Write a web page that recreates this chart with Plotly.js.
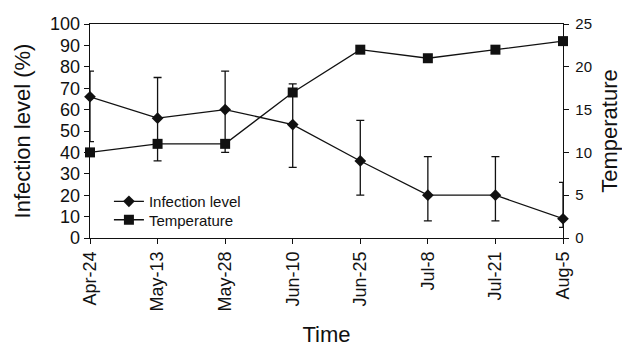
<!DOCTYPE html>
<html>
<head>
<meta charset="utf-8">
<script src="https://cdn.plot.ly/plotly-3.0.1.min.js"></script>
<style>html,body{margin:0;padding:0;background:#fff;}#chart{width:622px;height:347px;}</style>
</head>
<body>
<div id="chart"></div>
<script>
var dates = ['Apr-24','May-13','May-28','Jun-10','Jun-25','Jul-8','Jul-21','Aug-5'];
var infection = [66, 56, 60, 53, 36, 20, 20, 9];
var infErrPlus = [12, 19, 18, 19, 19, 18, 18, 17];
var infErrMinus = [21, 20, 20, 20, 16, 12, 12, 4];
var temperature = [10, 11, 11, 17, 22, 21, 22, 23];
var leftTicks = [0,10,20,30,40,50,60,70,80,90,100];
var rightTicks = [0,5,10,15,20,25];

var ink = '#111';
var font = 'Liberation Sans, Arial, sans-serif';

var traces = [
  {
    x: dates, y: infection, name: 'Infection level', type: 'scatter', mode: 'lines+markers',
    legend: 'legend',
    line: {color: ink, width: 1.3},
    marker: {symbol: 'diamond', size: 9, color: ink},
    error_y: {type: 'data', symmetric: false, array: infErrPlus, arrayminus: infErrMinus,
              color: ink, thickness: 1.3, width: 4},
    cliponaxis: false
  },
  {
    x: dates, y: temperature, name: 'Temperature', type: 'scatter', mode: 'lines+markers',
    yaxis: 'y2', legend: 'legend2',
    line: {color: ink, width: 1.3},
    marker: {symbol: 'square', size: 10, color: ink},
    cliponaxis: false
  }
];

var legendStyle = function (yPos) {
  return {x: 0.04, y: yPos, xanchor: 'left', yanchor: 'middle',
          bgcolor: 'rgba(0,0,0,0)', font: {size: 15, color: ink}};
};

var layout = {
  width: 622, height: 347,
  margin: {l: 90, r: 59, t: 24, b: 109},
  paper_bgcolor: '#fff', plot_bgcolor: '#fff',
  font: {family: font, color: ink},
  showlegend: true,
  legend: legendStyle(0.17),
  legend2: legendStyle(0.084),
  xaxis: {
    type: 'category', range: [0, 7], showgrid: false, zeroline: false,
    showline: true, linecolor: ink, linewidth: 1.3, mirror: true,
    ticks: 'outside', ticklen: 5, tickcolor: ink, tickwidth: 1,
    tickangle: -90, tickfont: {size: 18, color: ink},
    title: {text: 'Time', font: {size: 22, color: ink}, standoff: 18},
    automargin: false
  },
  yaxis: {
    range: [0, 100], tickvals: leftTicks, showgrid: false, zeroline: false,
    showline: true, linecolor: ink, linewidth: 1.3,
    ticks: 'outside', ticklen: 5, tickcolor: ink, tickwidth: 1,
    tickfont: {size: 18, color: ink},
    title: {text: 'Infection level (%)', font: {size: 22, color: ink}, standoff: 13},
    automargin: false
  },
  yaxis2: {
    range: [0, 25], tickvals: rightTicks, overlaying: 'y', side: 'right',
    showgrid: false, zeroline: false,
    showline: true, linecolor: ink, linewidth: 1.3,
    ticks: 'outside', ticklen: 5, tickcolor: ink, tickwidth: 1,
    ticklabelstandoff: 3,
    tickfont: {size: 15, color: ink},
    title: {text: 'Temperature', font: {size: 22, color: ink}, standoff: 14},
    automargin: false
  }
};

Plotly.newPlot('chart', traces, layout, {displayModeBar: false, staticPlot: true});
</script>
</body>
</html>
